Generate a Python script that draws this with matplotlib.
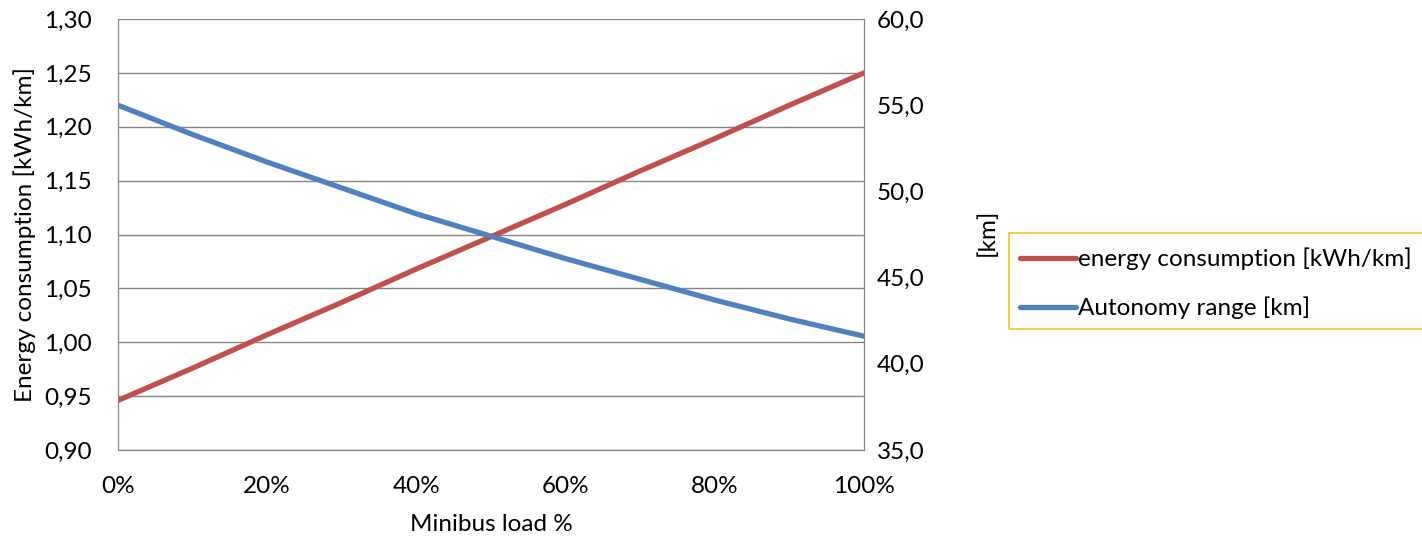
import numpy as np
import matplotlib.pyplot as plt
from matplotlib.patches import Rectangle
from matplotlib.ticker import FuncFormatter

load = [0, 10, 20, 30, 40, 50, 60, 70, 80, 90, 100]
consumption = [0.946, 0.976, 1.007, 1.037, 1.068, 1.098, 1.128, 1.159, 1.189, 1.220, 1.250]
autonomy = [55.0, 53.3, 51.7, 50.2, 48.7, 47.4, 46.1, 44.9, 43.7, 42.6, 41.6]

plt.rcParams['font.family'] = ['Lato', 'DejaVu Sans']
fs = 17.5

W, H = 1422, 537
fig = plt.figure(figsize=(W / 100, H / 100), dpi=100)
ax = fig.add_axes([118 / W, 1 - 450 / H, (864 - 118) / W, (450 - 19) / H])
ax2 = ax.twinx()

grey = '#868686'
red = '#C0504D'
blue = '#4F81BD'

l1, = ax.plot(load, consumption, color=red, linewidth=3.8, solid_capstyle='round',
              label='energy consumption [kWh/km]')
l2, = ax2.plot(load, autonomy, color=blue, linewidth=3.8, solid_capstyle='round',
               label='Autonomy range [km]')

ax.set_xlim(0, 100)
ax.set_ylim(0.90, 1.30)
ax2.set_ylim(35, 60)
ax.set_xticks(np.arange(0, 101, 20))
ax.set_yticks(np.arange(0.90, 1.301, 0.05))
ax2.set_yticks(np.arange(35, 60.1, 5))
ax.xaxis.set_major_formatter(FuncFormatter(lambda v, p: '%d%%' % v))
ax.yaxis.set_major_formatter(FuncFormatter(lambda v, p: ('%.2f' % v).replace('.', ',')))
ax2.yaxis.set_major_formatter(FuncFormatter(lambda v, p: ('%.1f' % v).replace('.', ',')))

ax.grid(axis='y', color=grey, linewidth=1.0)
ax.set_axisbelow(True)
for a in (ax, ax2):
    for s in a.spines.values():
        s.set_color(grey)
    a.spines['top'].set_visible(False)
    a.tick_params(length=0, colors='black', labelsize=fs)
ax.tick_params(axis='y', pad=19)
ax2.tick_params(axis='y', pad=9)
ax.tick_params(axis='x', pad=19)

ax.set_xlabel('Minibus load %', fontsize=fs, labelpad=12)
ax.set_ylabel('Energy consumption [kWh/km]', fontsize=fs, labelpad=6)
ax2.set_ylabel('[km]', fontsize=fs)
ax2.yaxis.set_label_coords(1.150, 0.505)

fig.patches.append(Rectangle((1009 / W, 1 - 329 / H), 500 / W, 96 / H,
                             transform=fig.transFigure, fill=False,
                             edgecolor='#F2C12E', linewidth=1.2))
fig.legend(handles=[l1, l2], loc='upper left', bbox_to_anchor=(1010 / W, 1 - 238 / H),
           frameon=False, fontsize=fs, handlelength=2.3, handletextpad=0.1,
           labelspacing=1.08, borderaxespad=0)

fig.savefig('out.png', dpi=100)
